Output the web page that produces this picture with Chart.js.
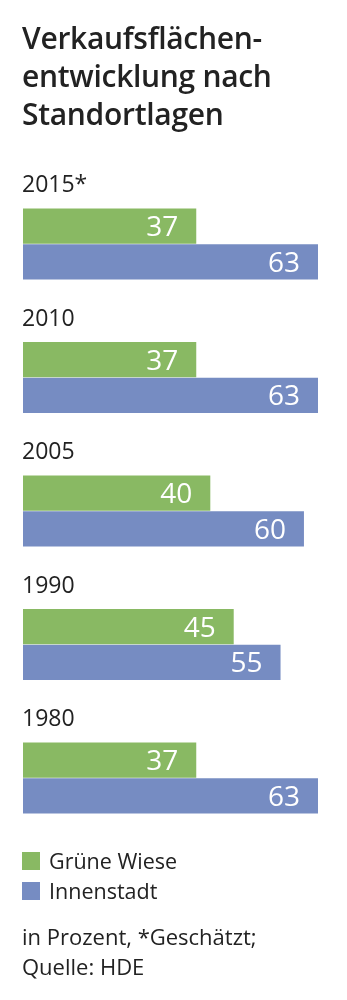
<!DOCTYPE html>
<html><head><meta charset="utf-8">
<script src="https://cdn.jsdelivr.net/npm/chart.js@4.4.1/dist/chart.umd.min.js"></script>
<style>
html,body{margin:0;padding:0;background:#fff;}
body{width:347px;height:1000px;position:relative;overflow:hidden;font-family:"Open Sans",sans-serif;color:#222;}
#title{position:absolute;left:22px;top:19px;font-size:30px;font-weight:600;line-height:38px;letter-spacing:-0.3px;}
#wrap{position:absolute;left:0;top:0;width:347px;height:1000px;}
#legend{position:absolute;left:22px;top:846px;font-size:21.5px;line-height:30px;color:#222;}
#legend .it{display:flex;align-items:center;height:30px;}
#legend .sw{width:18px;height:18px;margin-right:9px;}
#foot{position:absolute;left:22px;top:921px;font-size:22px;line-height:30px;color:#222;}
</style></head>
<body>
<div id="wrap"><canvas id="c" width="347" height="1000"></canvas></div>
<div id="title">Verkaufsflächen-<br>entwicklung nach<br>Standortlagen</div>
<div id="legend"></div>
<div id="foot">in Prozent, *Geschätzt;<br>Quelle: HDE</div>
<script>
const years = ["2015*", "2010", "2005", "1990", "1980"];
const grueneWiese = [37, 37, 40, 45, 37];
const innenstadt = [63, 63, 60, 55, 63];
const seriesNames = ["Grüne Wiese", "Innenstadt"];
const colors = ["#89b963", "#768cc2"];

const labelPlugin = {
  id: 'labels',
  afterDatasetsDraw(chart) {
    const ctx = chart.ctx;
    ctx.save();
    chart.data.datasets.forEach((ds, di) => {
      const meta = chart.getDatasetMeta(di);
      meta.data.forEach((bar, i) => {
        ctx.fillStyle = '#fff';
        ctx.font = '500 28px "Open Sans"';
        ctx.textAlign = 'right';
        ctx.textBaseline = 'alphabetic';
        ctx.fillText(String(ds.data[i]), bar.x - 18, bar.y + 10);
        if (di === 0) {
          ctx.fillStyle = '#222';
          ctx.font = '23px "Open Sans"';
          ctx.textAlign = 'left';
          ctx.fillText(chart.data.labels[i], chart.chartArea.left - 1, bar.y - bar.height / 2 - 16);
        }
      });
    });
    ctx.restore();
  }
};

new Chart(document.getElementById('c'), {
  type: 'bar',
  data: {
    labels: years,
    datasets: [
      { label: seriesNames[0], data: grueneWiese, backgroundColor: colors[0] },
      { label: seriesNames[1], data: innenstadt, backgroundColor: colors[1] }
    ]
  },
  options: {
    indexAxis: 'y',
    responsive: false,
    animation: false,
    events: [],
    layout: { padding: { left: 23, right: 29, top: 177.25, bottom: 155.25 } },
    categoryPercentage: 0.539,
    barPercentage: 0.98,
    scales: {
      x: { display: false, min: 0, max: 63 },
      y: { display: false }
    },
    plugins: { legend: { display: false }, tooltip: { enabled: false } }
  },
  plugins: [labelPlugin]
});

const lg = document.getElementById('legend');
seriesNames.forEach((n, i) => {
  const d = document.createElement('div'); d.className = 'it';
  d.innerHTML = '<span class="sw" style="background:' + colors[i] + '"></span><span>' + n + '</span>';
  lg.appendChild(d);
});
</script>
</body></html>
